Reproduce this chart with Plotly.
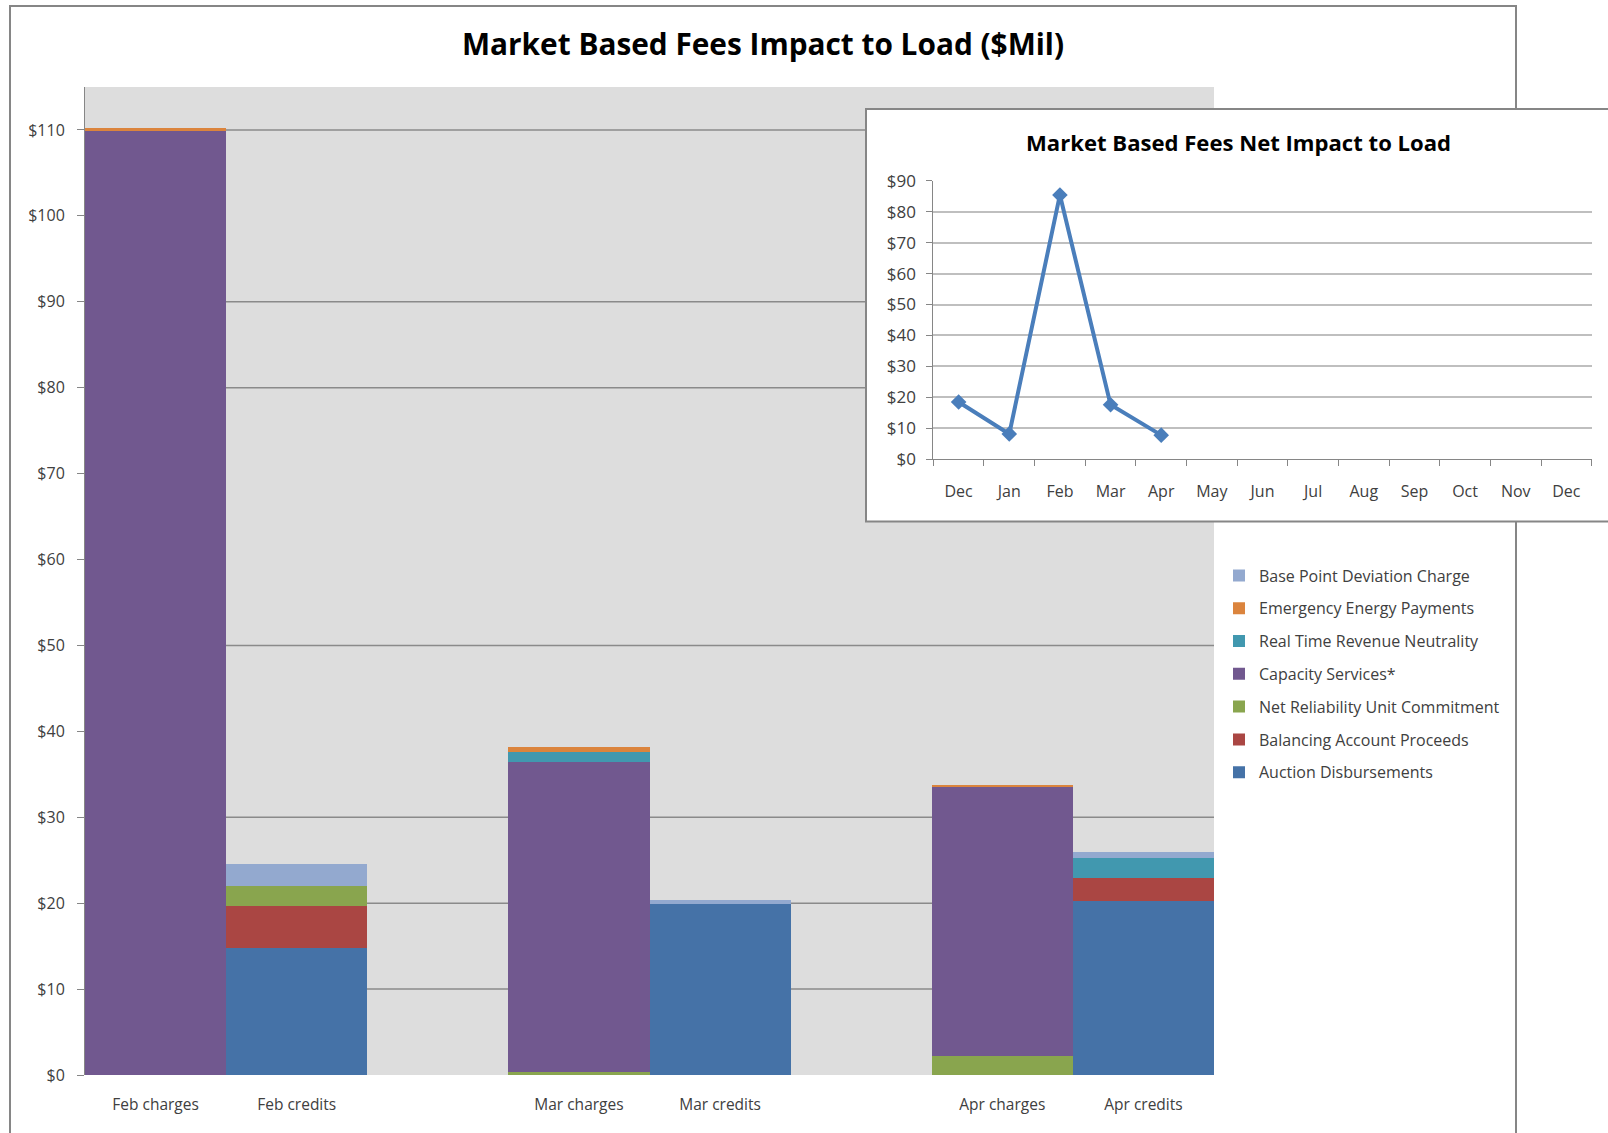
import plotly.graph_objects as go

W, H = 1608, 1133

# ---------------- data ----------------
categories = ["Feb charges", "Feb credits", " ", "Mar charges", "Mar credits", "  ", "Apr charges", "Apr credits"]

auction_disbursements = [None, 14.75, None, None, 19.95, None, None, 20.2]
balancing_account = [None, 4.9, None, None, None, None, None, 2.7]
net_reliability_uc = [None, 2.4, None, 0.35, None, None, 2.25, None]
capacity_services = [109.9, None, None, 36.1, None, None, 31.25, None]
rt_revenue_neutrality = [None, None, None, 1.15, None, None, None, 2.4]
emergency_energy = [0.3, None, None, 0.6, None, None, 0.3, None]
base_point_deviation = [None, 2.55, None, None, 0.45, None, None, 0.6]

main_ticks = list(range(0, 111, 10))
main_tick_labels = ["$" + str(v) for v in main_ticks]
visible_gridlines = [10, 20, 30, 50, 80, 90, 110]

month_keys = ["Dec0", "Jan", "Feb", "Mar", "Apr", "May", "Jun", "Jul", "Aug", "Sep", "Oct", "Nov", "Dec"]
month_labels = ["Dec", "Jan", "Feb", "Mar", "Apr", "May", "Jun", "Jul", "Aug", "Sep", "Oct", "Nov", "Dec"]
net_months = ["Dec0", "Jan", "Feb", "Mar", "Apr"]
net_impact = [18.5, 8.2, 85.4, 17.6, 7.8]
inset_ticks = list(range(0, 91, 10))
inset_tick_labels = ["$" + str(v) for v in inset_ticks]

series = [
    ("Auction Disbursements", auction_disbursements, "#4572A7"),
    ("Balancing Account Proceeds", balancing_account, "#AA4643"),
    ("Net Reliability Unit Commitment", net_reliability_uc, "#89A54E"),
    ("Capacity Services*", capacity_services, "#71588F"),
    ("Real Time Revenue Neutrality", rt_revenue_neutrality, "#4198AF"),
    ("Emergency Energy Payments", emergency_energy, "#DB843D"),
    ("Base Point Deviation Charge", base_point_deviation, "#93A9CF"),
]

FONT = "'Open Sans', Lato, sans-serif"
TXT = "#404040"
AX = "#868686"

def px_x(p):
    return p / W

def px_y(p):
    return 1 - p / H

fig = go.Figure()
n = len(series)
for i, (name, vals, col) in enumerate(series):
    fig.add_trace(go.Bar(
        x=categories, y=vals, name=name, marker_color=col,
        marker_line_width=0, legendgroup=f"g{i}", legendrank=n - i,
        xaxis="x", yaxis="y",
    ))

fig.add_trace(go.Scatter(
    x=net_months, y=net_impact, mode="lines+markers",
    line=dict(color="#4A7EBB", width=4),
    marker=dict(symbol="diamond", size=12, color="#4A7EBB"),
    showlegend=False, xaxis="x2", yaxis="y2",
))

shapes = []
shapes.append(dict(type="rect", xref="x domain", yref="y domain", x0=0, x1=1, y0=0, y1=1,
                   fillcolor="#DDDDDD", line_width=0, layer="below"))
for g in visible_gridlines:
    shapes.append(dict(type="line", xref="x domain", yref="y", x0=0, x1=1, y0=g, y1=g,
                       line=dict(color="#8A8A8A", width=1.5), layer="below"))
shapes.append(dict(type="rect", xref="paper", yref="paper", x0=px_x(10), x1=px_x(1516),
                   y0=px_y(1145), y1=px_y(6), line=dict(color=AX, width=2),
                   fillcolor="rgba(0,0,0,0)", layer="below"))
shapes.append(dict(type="rect", xref="paper", yref="paper", x0=px_x(866), x1=px_x(1620),
                   y0=px_y(521.5), y1=px_y(109), line=dict(color=AX, width=2),
                   fillcolor="white", layer="below"))

annotations = [
    dict(text="<b>Market Based Fees Impact to Load ($Mil)</b>", xref="paper", yref="paper",
         x=px_x(763), y=px_y(44), xanchor="center", yanchor="middle", showarrow=False,
         font=dict(family=FONT, size=29.8, color="#000000")),
    dict(text="<b>Market Based Fees Net Impact to Load</b>", xref="paper", yref="paper",
         x=px_x(1238), y=px_y(141.5), xanchor="center", yanchor="middle", showarrow=False,
         font=dict(family=FONT, size=22.1, color="#000000")),
]

fig.update_layout(
    width=W, height=H, margin=dict(l=0, r=0, t=0, b=0, autoexpand=False),
    autosize=False,
    paper_bgcolor="white", plot_bgcolor="rgba(0,0,0,0)",
    barmode="stack", bargap=0,
    font=dict(family=FONT, size=16, color=TXT),
    shapes=shapes, annotations=annotations,
    showlegend=True,
    legend=dict(x=px_x(1219), y=px_y(558.5), xanchor="left", yanchor="top",
                traceorder="grouped", tracegroupgap=9,
                font=dict(family=FONT, size=16, color=TXT),
                bgcolor="rgba(0,0,0,0)"),
    xaxis=dict(domain=[px_x(85), px_x(1214)], anchor="y", type="category",
               categoryorder="array", categoryarray=categories, range=[-0.5, 7.5],
               showgrid=False, showline=False, ticks="", zeroline=False, automargin=False,
               ticklabelstandoff=18, tickfont=dict(size=15.5, color=TXT)),
    yaxis=dict(domain=[px_y(1075), px_y(87)], anchor="x", range=[0, 115],
               tickmode="array", tickvals=main_ticks, ticktext=main_tick_labels,
               showgrid=False, zeroline=False, showline=True, linecolor=AX, linewidth=1,
               ticks="outside", ticklen=7, tickcolor=AX, ticklabelstandoff=9, automargin=False,
               tickfont=dict(size=16, color=TXT)),
    xaxis2=dict(domain=[px_x(933.3), px_x(1591.7)], anchor="y2", type="category",
                categoryorder="array", categoryarray=month_keys, range=[-0.5, 12.5],
                tickmode="array", tickvals=month_keys, ticktext=month_labels,
                tickson="boundaries", ticks="outside", ticklen=6, tickcolor=AX,
                showline=True, linecolor=AX, linewidth=1, showgrid=False, zeroline=False,
                ticklabelstandoff=17, automargin=False, tickfont=dict(size=16, color=TXT)),
    yaxis2=dict(domain=[px_y(459.3), px_y(180.7)], anchor="x2", range=[0, 90],
                tickmode="array", tickvals=inset_ticks, ticktext=inset_tick_labels,
                showgrid=True, gridcolor="#BFBFBF", gridwidth=1.5, zeroline=False,
                showline=True, linecolor=AX, linewidth=1, automargin=False,
                ticks="outside", ticklen=6, tickcolor=AX, ticklabelstandoff=7,
                tickfont=dict(size=17, color=TXT)),
)

post = ("document.documentElement.style.margin='0';document.body.style.margin='0';"
        "document.body.style.padding='0';document.body.style.overflow='hidden';"
        "var d=document.getElementById('{plot_id}');d.style.position='absolute';"
        "d.style.left='0px';d.style.top='0px';")

fig.write_html("out.html", post_script=post, config={"displayModeBar": False})
